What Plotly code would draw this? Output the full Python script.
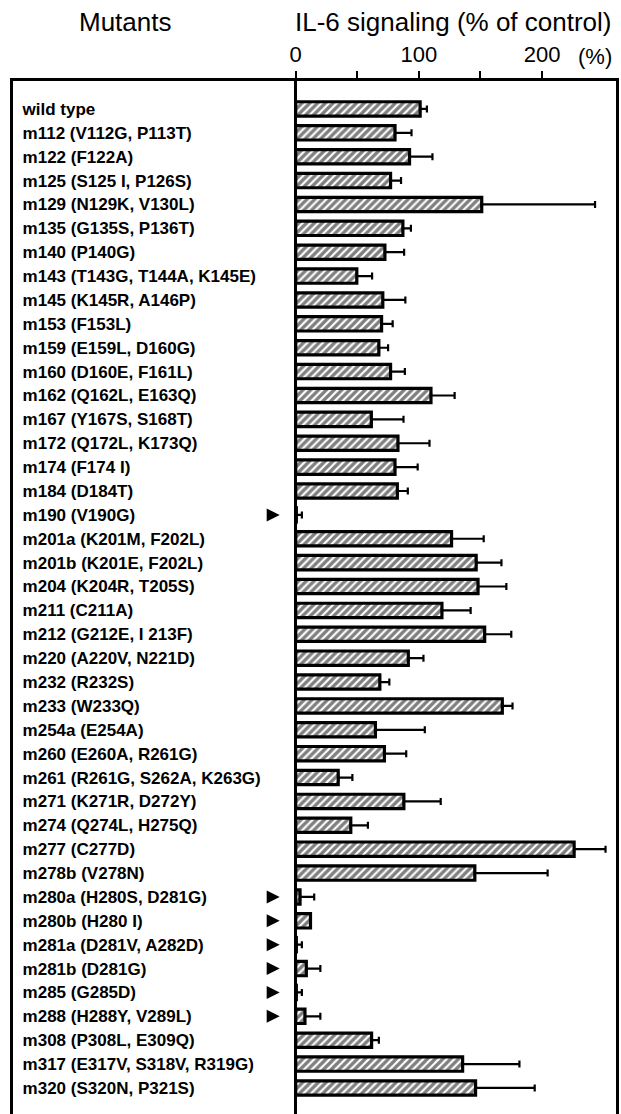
import plotly.graph_objects as go

mutants = [
    "wild type", "m112 (V112G, P113T)", "m122 (F122A)", "m125 (S125 I, P126S)",
    "m129 (N129K, V130L)", "m135 (G135S, P136T)", "m140 (P140G)",
    "m143 (T143G, T144A, K145E)", "m145 (K145R, A146P)", "m153 (F153L)",
    "m159 (E159L, D160G)", "m160 (D160E, F161L)", "m162 (Q162L, E163Q)",
    "m167 (Y167S, S168T)", "m172 (Q172L, K173Q)", "m174 (F174 I)", "m184 (D184T)",
    "m190 (V190G)", "m201a (K201M, F202L)", "m201b (K201E, F202L)",
    "m204 (K204R, T205S)", "m211 (C211A)", "m212 (G212E, I 213F)",
    "m220 (A220V, N221D)", "m232 (R232S)", "m233 (W233Q)", "m254a (E254A)",
    "m260 (E260A, R261G)", "m261 (R261G, S262A, K263G)", "m271 (K271R, D272Y)",
    "m274 (Q274L, H275Q)", "m277 (C277D)", "m278b (V278N)", "m280a (H280S, D281G)",
    "m280b (H280 I)", "m281a (D281V, A282D)", "m281b (D281G)", "m285 (G285D)",
    "m288 (H288Y, V289L)", "m308 (P308L, E309Q)", "m317 (E317V, S318V, R319G)",
    "m320 (S320N, P321S)",
]

signal = [101, 80.6, 92.4, 77, 151, 87, 72.4, 49.6, 70.7, 69.7,
          67.5, 77, 109.8, 61.4, 83, 80.6, 82.5, 0.5, 126.5, 146.5,
          148, 118.7, 153.4, 91.4, 68.3, 167.7, 64.7, 72, 34.5, 87.8,
          44.7, 226, 145.4, 3.5, 12, 0.5, 8.6, 0.5, 7.5, 61.6,
          135.5, 146]

sd = [5.5, 13.4, 18.6, 8.5, 92, 6.5, 15.6, 12.4, 18.3, 9,
      7.5, 11.6, 19.2, 26.1, 25.6, 18.4, 8.5, 4.5, 26.1, 20.5,
      23, 23.3, 21.6, 12.3, 7.7, 8.3, 40.1, 17.7, 11.5, 29.9,
      13.9, 25.5, 59.1, 11.5, 0, 4.5, 11.4, 4.5, 12.5, 5.9,
      46.1, 48]

inactive = ["m190 (V190G)", "m280a (H280S, D281G)", "m280b (H280 I)",
            "m281a (D281V, A282D)", "m281b (D281G)", "m285 (G285D)",
            "m288 (H288Y, V289L)"]

x_ticks = [0, 50, 100, 150, 200]
x_ticktext = ["0", "", "100", "", "200"]

FONT = "Liberation Sans, Arial, Helvetica, sans-serif"
n = len(mutants)
rows = list(range(n))

fig = go.Figure()
fig.add_trace(go.Bar(
    x=signal, y=rows, orientation="h", width=0.6,
    marker=dict(color="white", line=dict(color="black", width=3.2),
                pattern=dict(shape="/", fgcolor="black", bgcolor="white",
                             size=5.5, solidity=0.6)),
    error_x=dict(type="data", symmetric=False, array=sd, arrayminus=[0] * n,
                 color="black", thickness=2.2, width=3.5),
    hoverinfo="skip",
))

arrow_rows = [i for i, m in enumerate(mutants) if m in inactive]
fig.add_trace(go.Scatter(
    x=[-13] * len(arrow_rows), y=arrow_rows, mode="markers",
    marker=dict(symbol="arrow-right", size=13, color="black"),
    hoverinfo="skip",
))

fig.update_layout(
    width=621, height=1114,
    margin=dict(l=13, r=5, t=81, b=0),
    plot_bgcolor="white", paper_bgcolor="white",
    showlegend=False,
    font=dict(family=FONT, color="black"),
    xaxis=dict(
        range=[-229.5, 260], side="top", showline=True, linewidth=3,
        linecolor="black", mirror=False, ticks="outside",
        tickvals=x_ticks, ticktext=x_ticktext, ticklen=7, tickwidth=2,
        tickcolor="black", tickfont=dict(size=22, family=FONT, color="black"),
        showgrid=False, zeroline=True, zerolinewidth=3.3, zerolinecolor="black",
    ),
    yaxis=dict(
        range=[42.09, -1.17], tickvals=rows, ticktext=mutants,
        ticklabelposition="inside", ticks="", showline=True, mirror=True,
        linewidth=3, linecolor="black", showgrid=False, zeroline=False,
        tickfont=dict(size=17, family=FONT, weight="bold", color="black"),
        ticklabelstandoff=10,
    ),
    annotations=[
        dict(text="Mutants", xref="paper", yref="paper", x=0.187, y=1.0571,
             xanchor="center", yanchor="middle", showarrow=False,
             font=dict(size=26, family=FONT, color="black")),
        dict(text="IL-6 signaling (% of control)", xref="paper", yref="paper",
             x=0.995, y=1.0571, xanchor="right", yanchor="middle",
             showarrow=False, font=dict(size=26, family=FONT, color="black")),
        dict(text="(%)", xref="x", yref="paper", x=243, y=1.0242,
             xanchor="center", yanchor="middle", showarrow=False,
             font=dict(size=22, family=FONT, color="black")),
    ],
)

fig.write_html("out.html")
